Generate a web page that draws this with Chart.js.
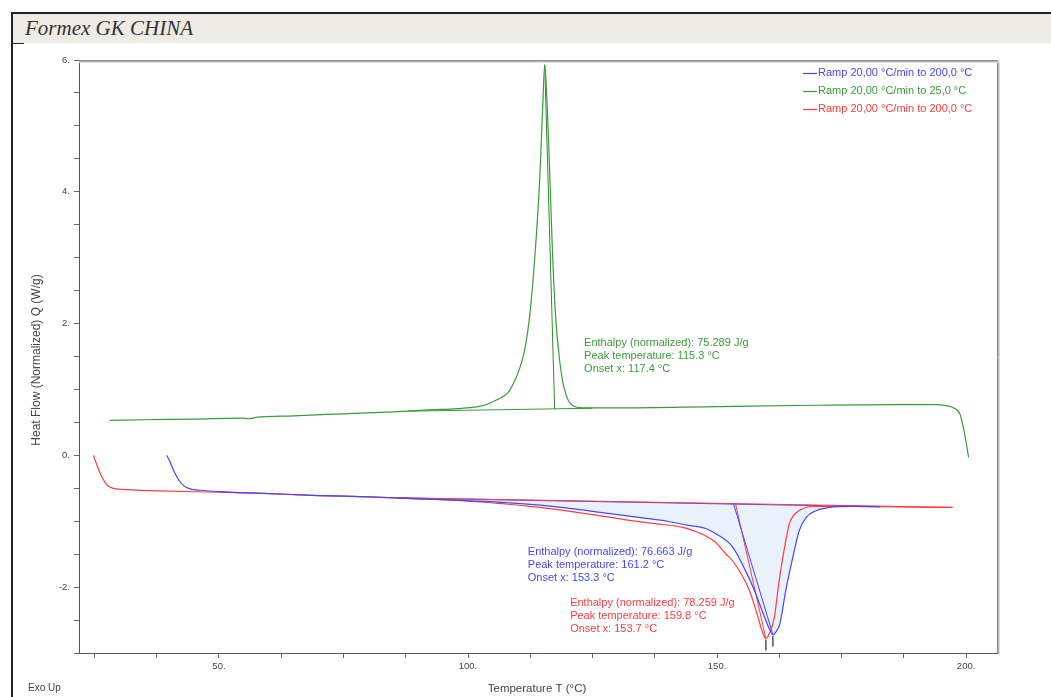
<!DOCTYPE html>
<html>
<head>
<meta charset="utf-8">
<title>Formex GK CHINA</title>
<script src="https://cdn.jsdelivr.net/npm/chart.js@4.4.1/dist/chart.umd.min.js"></script>
<style>
  html, body { margin: 0; padding: 0; background: #fff; }
  #page { position: relative; width: 1051px; height: 697px; overflow: hidden; background: #fff; }
  #frame { position: absolute; left: 11px; top: 12px; width: 1100px; height: 760px; border-left: 2px solid #222; border-top: 2px solid #222; }
  #header { position: absolute; left: 13px; top: 14px; width: 1100px; height: 29px; background: #edebe3; }
  #header span { position: absolute; left: 12px; top: 2px; font: italic 21px "Liberation Serif", "DejaVu Serif", serif; color: #333; }
  #notch { position: absolute; left: 12px; top: 43px; width: 12px; height: 1px; background: #222; }
  #wrap { position: absolute; left: 0; top: 0; width: 1051px; height: 697px; }
</style>
</head>
<body>
<div id="page">
  <div id="frame"></div>
  <div id="header"><span>Formex GK CHINA</span></div>
  <div id="notch"></div>
  <div id="wrap"><canvas id="dsc"></canvas></div>
</div>
<script>
// heating run 1 (blue)
var blueT = [39.5, 40.2, 40.9, 41.9, 42.9, 44.2, 46.3, 50, 60, 70, 80, 90, 100, 106, 115, 120, 125, 130, 135, 140, 144, 147.7, 150, 153.1, 155.7, 157.5, 159, 160.3, 161.2, 162, 162.6, 163.8, 165.2, 166.5, 167.9, 169.9, 172.6, 177, 182.7];
var blueQ = [0.0, -0.1, -0.23, -0.37, -0.46, -0.51, -0.53, -0.55, -0.58, -0.61, -0.63, -0.66, -0.69, -0.71, -0.76, -0.80, -0.85, -0.90, -0.95, -1.00, -1.06, -1.11, -1.20, -1.39, -1.75, -2.05, -2.35, -2.6, -2.72, -2.66, -2.56, -2.05, -1.55, -1.14, -0.94, -0.84, -0.79, -0.775, -0.78];

// cooling run (green)
var greenT = [28.1, 35, 45, 54.5, 56, 57.5, 65, 75, 85, 92, 98, 102, 104, 106, 108, 109.5, 110.5, 111.5, 112.5, 113.5, 114.4, 115, 115.4, 115.9, 116.3, 116.9, 117.5, 118.3, 119.2, 120.2, 121.2, 123, 130, 150, 170, 186, 194, 196, 197.5, 198.8, 199.5, 200.1, 200.5];
var greenQ = [0.53, 0.54, 0.55, 0.565, 0.555, 0.575, 0.60, 0.63, 0.66, 0.69, 0.71, 0.74, 0.78, 0.85, 0.95, 1.15, 1.35, 1.65, 2.2, 3.1, 4.2, 5.3, 5.93, 5.3, 4.5, 3.2, 2.2, 1.5, 1.05, 0.82, 0.75, 0.72, 0.72, 0.74, 0.76, 0.77, 0.77, 0.755, 0.72, 0.62, 0.4, 0.15, -0.03];

// heating run 2 (red)
var redT = [24.8, 25.6, 26.5, 27.4, 28.1, 29.3, 31.2, 37.8, 50, 60, 70, 80, 90, 100, 106, 112, 119.5, 126, 132.8, 138, 142.9, 145.5, 147.7, 149.7, 151.7, 153.1, 155, 156.5, 157.6, 158.5, 159.2, 159.8, 160.4, 161.5, 162.2, 163.2, 164.5, 165.5, 166.5, 168.5, 175, 190, 197.3];
var redQ = [0.0, -0.17, -0.33, -0.44, -0.48, -0.51, -0.52, -0.54, -0.56, -0.58, -0.61, -0.63, -0.66, -0.69, -0.73, -0.77, -0.84, -0.91, -0.99, -1.04, -1.09, -1.15, -1.22, -1.32, -1.49, -1.60, -1.82, -2.05, -2.3, -2.53, -2.7, -2.78, -2.72, -2.46, -2.05, -1.55, -1.04, -0.9, -0.84, -0.78, -0.77, -0.785, -0.79];

// integration baselines, onset and peak construction lines
var blueBaseT = [86, 182.7],   blueBaseQ = [-0.645, -0.78];
var redBaseT = [86, 197.3],    redBaseQ = [-0.645, -0.79];
var greenBaseT = [88, 125],    greenBaseQ = [0.67, 0.715];
var blueOnsetT = [153.3, 161.2], blueOnsetQ = [-0.735, -2.72];
var redOnsetT = [153.7, 159.8],  redOnsetQ = [-0.735, -2.78];
var greenOnsetT = [117.4, 115.4], greenOnsetQ = [0.70, 5.93];
var blueMarkT = [161.2, 161.2], blueMarkQ = [-2.74, -2.9];
var redMarkT = [159.8, 159.8],  redMarkQ = [-2.8, -2.96];

var seriesNames = ['Ramp 20,00 \u00B0C/min to 200,0 \u00B0C', 'Ramp 20,00 \u00B0C/min to 25,0 \u00B0C', 'Ramp 20,00 \u00B0C/min to 200,0 \u00B0C'];
var seriesColors = ['#4646ff', '#3c9a3c', '#ff3c3c'];

var greenNote = ['Enthalpy (normalized): 75.289 J/g', 'Peak temperature: 115.3 \u00B0C', 'Onset x: 117.4 \u00B0C'];
var blueNote = ['Enthalpy (normalized): 76.663 J/g', 'Peak temperature: 161.2 \u00B0C', 'Onset x: 153.3 \u00B0C'];
var redNote = ['Enthalpy (normalized): 78.259 J/g', 'Peak temperature: 159.8 \u00B0C', 'Onset x: 153.7 \u00B0C'];

var xTicks = [25, 37.5, 50, 62.5, 75, 87.5, 100, 112.5, 125, 137.5, 150, 162.5, 175, 187.5, 200];
var xLabelValues = [50, 100, 150, 200];
var xLabelTexts = ['50.', '100.', '150.', '200.'];
var yTicks = [-3, -2.5, -2, -1.5, -1, -0.5, 0, 0.5, 1, 1.5, 2, 2.5, 3, 3.5, 4, 4.5, 5, 5.5, 6];
var yLabelValues = [-2, 0, 2, 4, 6];
var yLabelTexts = ['-2.', '0.', '2.', '4.', '6.'];

var FONT = '"Liberation Sans", Arial, sans-serif';

function pts(xs, ys) {
  return xs.map(function (x, i) { return { x: x, y: ys[i] }; });
}

function line(xs, ys, color, extra) {
  var ds = { data: pts(xs, ys), borderColor: color, borderWidth: 1.2, pointRadius: 0, fill: false, tension: 0 };
  for (var k in extra) ds[k] = extra[k];
  return ds;
}

function labelFor(values, texts) {
  return function (v) {
    var i = values.indexOf(Math.round(v * 100) / 100);
    return i < 0 ? '' : texts[i];
  };
}

var decor = {
  id: 'decor',
  afterDraw: function (chart) {
    var ctx = chart.ctx, a = chart.chartArea;
    var xs = chart.scales.x, ys = chart.scales.y;
    ctx.save();
    // grey frame on top and right with soft shadow
    ctx.lineWidth = 1;
    [['#8c8c8c', 0], ['#b4b4b4', 1], ['#dcdcdc', 2]].forEach(function (s) {
      ctx.strokeStyle = s[0];
      ctx.beginPath();
      ctx.moveTo(a.left, a.top + 0.5 + s[1]);
      ctx.lineTo(a.right + s[1], a.top + 0.5 + s[1]);
      ctx.moveTo(a.right + 0.5 + s[1], a.top + s[1]);
      ctx.lineTo(a.right + 0.5 + s[1], a.bottom + s[1]);
      ctx.stroke();
    });

    // legend
    ctx.font = '11px ' + FONT;
    ctx.textBaseline = 'middle';
    seriesNames.forEach(function (name, i) {
      var y = 73 + i * 18;
      ctx.strokeStyle = seriesColors[i];
      ctx.lineWidth = 1.2;
      ctx.beginPath();
      ctx.moveTo(803, y + 0.5);
      ctx.lineTo(817, y + 0.5);
      ctx.stroke();
      ctx.fillStyle = seriesColors[i];
      ctx.fillText(name, 818, y);
    });

    // result annotations
    function note(lines, t, q, color) {
      var px = xs.getPixelForValue(t), py = ys.getPixelForValue(q);
      ctx.fillStyle = color;
      lines.forEach(function (s, i) { ctx.fillText(s, px, py + i * 13); });
    }
    note(greenNote, 123.3, 1.71, seriesColors[1]);
    note(blueNote, 112.0, -1.47, seriesColors[0]);
    note(redNote, 120.5, -2.24, seriesColors[2]);

    // axis titles
    ctx.fillStyle = '#444';
    ctx.font = '11.5px ' + FONT;
    ctx.textAlign = 'center';
    ctx.fillText('Temperature T (\u00B0C)', 537, 689);
    ctx.font = '10px ' + FONT;
    ctx.textAlign = 'left';
    ctx.fillText('Exo Up', 28, 688);
    ctx.font = '12px ' + FONT;
    ctx.translate(37, 360);
    ctx.rotate(-Math.PI / 2);
    ctx.textAlign = 'center';
    ctx.fillText('Heat Flow (Normalized) Q (W/g)', 0, 0);
    ctx.restore();
  }
};

var smooth = { cubicInterpolationMode: 'monotone' };

new Chart(document.getElementById('dsc'), {
  type: 'line',
  data: {
    datasets: [
      line(blueT, blueQ, seriesColors[0], smooth),
      line(greenT, greenQ, seriesColors[1], smooth),
      line(redT, redQ, seriesColors[2], smooth),
      line(blueBaseT, blueBaseQ, seriesColors[0], { fill: { target: 0 }, backgroundColor: '#e9f1fd', order: 10 }),
      line(redBaseT, redBaseQ, seriesColors[2], { borderWidth: 1 }),
      line(greenBaseT, greenBaseQ, seriesColors[1], { borderWidth: 1 }),
      line(blueOnsetT, blueOnsetQ, seriesColors[0], { borderWidth: 1 }),
      line(redOnsetT, redOnsetQ, seriesColors[2], { borderWidth: 1 }),
      line(greenOnsetT, greenOnsetQ, '#2f8a2f', { borderWidth: 1 }),
      line(blueMarkT, blueMarkQ, '#666', { borderWidth: 1 }),
      line(redMarkT, redMarkQ, '#666', { borderWidth: 1 })
    ]
  },
  options: {
    responsive: true,
    maintainAspectRatio: false,
    animation: false,
    layout: { padding: { top: 60, right: 54, left: 0, bottom: 0 } },
    plugins: { legend: { display: false }, tooltip: { enabled: false } },
    scales: {
      x: {
        type: 'linear', min: 21.9, max: 206.2,
        afterBuildTicks: function (s) { s.ticks = xTicks.map(function (v) { return { value: v }; }); },
        afterFit: function (s) { s.height = 44; },
        grid: { drawOnChartArea: false, drawTicks: true, tickLength: 5, color: '#666' },
        border: { color: '#555', width: 1 },
        ticks: { autoSkip: false, maxRotation: 0, color: '#444', padding: 3, font: { family: FONT, size: 9.5 }, callback: labelFor(xLabelValues, xLabelTexts) }
      },
      y: {
        type: 'linear', min: -3, max: 6,
        afterBuildTicks: function (s) { s.ticks = yTicks.map(function (v) { return { value: v }; }); },
        afterFit: function (s) { s.width = 79; },
        grid: { drawOnChartArea: false, drawTicks: true, tickLength: 5, color: '#666' },
        border: { color: '#555', width: 1 },
        ticks: { autoSkip: false, color: '#444', padding: 4, font: { family: FONT, size: 9.5 }, callback: labelFor(yLabelValues, yLabelTexts) }
      }
    }
  },
  plugins: [decor]
});
</script>
</body>
</html>
